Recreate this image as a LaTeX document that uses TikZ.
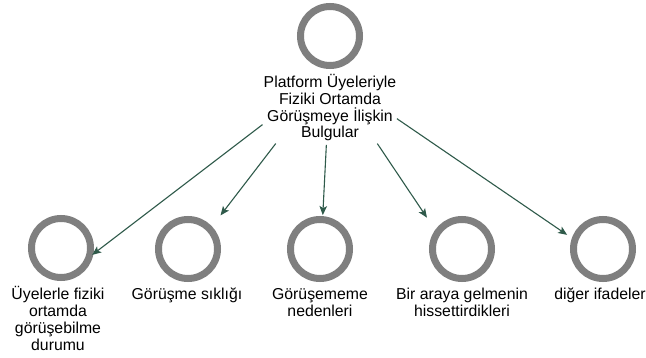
\documentclass[tikz,border=0pt]{standalone}
\usepackage{fontspec}
\setmainfont{Liberation Sans}
\usetikzlibrary{arrows.meta}
\definecolor{ringgray}{HTML}{7F7F7F}
\definecolor{arrgreen}{HTML}{2F5A4A}
\begin{document}
\begin{tikzpicture}[x=1pt,y=-1pt,
  ring/.style={circle,draw=ringgray,line width=7pt,minimum size=59pt,inner sep=0pt},
  lbl/.style={align=center,anchor=base,inner sep=0pt,font=\fontsize{15.8pt}{16.8pt}\selectfont},
  arr/.style={draw=arrgreen,line width=1.1pt,-{Stealth[length=9pt,width=7.5pt,inset=2pt]}}]
\useasboundingbox[fill=white] (0,0) rectangle (646,358);
% nodes (label anchor = baseline of last line)
\node[ring] (c0) at (330,36) {};
\node[lbl] (l0) at (330,137.9) {Platform Üyeleriyle\\Fiziki Ortamda\\Görüşmeye İlişkin\\Bulgular};
\node[ring] (c1) at (61,248) {};
\node[lbl] (l1) at (58,350.4) {Üyelerle fiziki\\ortamda\\görüşebilme\\durumu};
\node[ring] (c2) at (188,249) {};
\node[lbl] (l2) at (187,300) {Görüşme sıklığı};
\node[ring] (c3) at (320,249) {};
\node[lbl] (l3) at (320,316.8) {Görüşememe\\nedenleri};
\node[ring] (c4) at (462,249) {};
\node[lbl] (l4) at (462,316.8) {Bir araya gelmenin\\hissettirdikleri};
\node[ring] (c5) at (603,249) {};
\node[lbl] (l5) at (600,300) {diğer ifadeler};
% group centres
\coordinate (g0) at (330,73);
\coordinate (g1) at (58,281);
\coordinate (g2) at (187,259);
\coordinate (g3) at (320,270);
\coordinate (g4) at (462,270);
\coordinate (g5) at (601,258);
% connectors
\draw[arr,shorten <=85pt,shorten >=43pt] (g0) -- (g1);
\draw[arr,shorten <=89pt,shorten >=55pt] (g0) -- (g2);
\draw[arr,shorten <=72pt,shorten >=55pt] (g0) -- (g3);
\draw[arr,shorten <=85pt,shorten >=63pt] (g0) -- (g4);
\draw[arr,shorten <=81pt,shorten >=41pt] (g0) -- (g5);
\end{tikzpicture}
\end{document}
